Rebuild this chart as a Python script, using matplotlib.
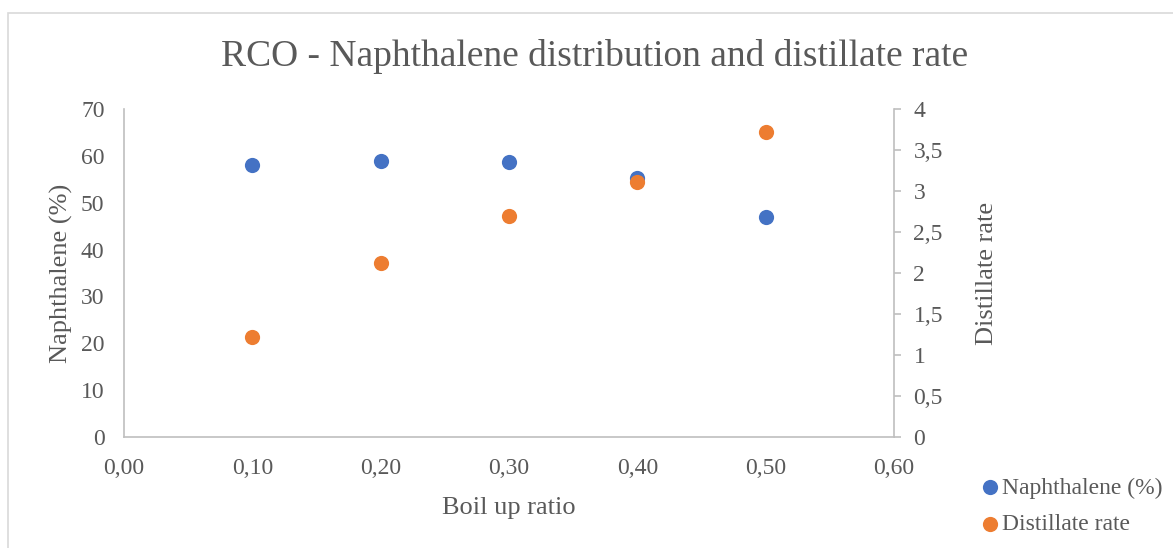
import matplotlib
matplotlib.use("Agg")
import matplotlib.pyplot as plt
from matplotlib.ticker import FuncFormatter, MultipleLocator
from matplotlib.patches import Rectangle

plt.rcParams['font.family'] = ['Liberation Serif', 'DejaVu Serif']

boil_up = [0.10, 0.20, 0.30, 0.40, 0.50]
naphthalene = [58.0, 58.9, 58.6, 55.3, 47.0]
distillate = [1.22, 2.12, 2.69, 3.11, 3.72]

title = "RCO - Naphthalene distribution and distillate rate"
xlabel = "Boil up ratio"
ylabel_left = "Naphthalene (%)"
ylabel_right = "Distillate rate"
series_names = ["Naphthalene (%)", "Distillate rate"]

BLUE = "#4472C4"
ORANGE = "#ED7D31"
TXT = "#595959"
SPINE = "#BFBFBF"

fig = plt.figure(figsize=(11.73, 5.48), dpi=100)
fig.patches.append(Rectangle((8/1173, -0.05), 1.1, 1 - 13/548 + 0.05,
                             transform=fig.transFigure, fill=False,
                             edgecolor="#D9D9D9", linewidth=1.2, zorder=0))

ax = fig.add_axes([124/1173, 1 - 437/548, (894 - 124)/1173, (437 - 109)/548])
ax2 = ax.twinx()

s1 = ax.scatter(boil_up, naphthalene, s=120, color=BLUE, zorder=3, linewidths=0)
s2 = ax2.scatter(boil_up, distillate, s=120, color=ORANGE, zorder=3, linewidths=0)

ax.set_xlim(0, 0.6)
ax.set_ylim(0, 70)
ax2.set_ylim(0, 4)
ax.xaxis.set_major_locator(MultipleLocator(0.1))
ax.yaxis.set_major_locator(MultipleLocator(10))
ax2.yaxis.set_major_locator(MultipleLocator(0.5))

ax.xaxis.set_major_formatter(FuncFormatter(lambda v, p: f"{v:.2f}".replace(".", ",")))
def rfmt(v, p):
    s = f"{v:g}"
    return s.replace(".", ",")
ax2.yaxis.set_major_formatter(FuncFormatter(rfmt))

for a in (ax, ax2):
    for sp in a.spines.values():
        sp.set_visible(False)
ax.spines['left'].set_visible(True)
ax.spines['bottom'].set_visible(True)
ax2.spines['right'].set_visible(True)
for sp in (ax.spines['left'], ax.spines['bottom'], ax2.spines['right']):
    sp.set_color(SPINE)
    sp.set_linewidth(1.2)

ax.tick_params(axis='x', length=0, pad=15, labelsize=17, labelcolor=TXT)
ax.tick_params(axis='y', length=0, pad=14, labelsize=17, labelcolor=TXT)
ax2.tick_params(axis='y', length=5, width=1.2, color=SPINE, pad=9, labelsize=17, labelcolor=TXT)

ax.set_xlabel(xlabel, fontsize=19, color=TXT, labelpad=13)
ax.set_ylabel(ylabel_left, fontsize=19, color=TXT, labelpad=6)
ax2.set_ylabel(ylabel_right, fontsize=19, color=TXT, labelpad=24)

fig.text(0.5 * (222 + 967) / 1173, 1 - 57/548, title, fontsize=27, color=TXT,
         ha='center', va='center')

fig.legend([s1, s2], series_names, loc='center left',
           bbox_to_anchor=(978/1173, 1 - 506/548), frameon=False,
           fontsize=17, labelcolor=TXT, handletextpad=0.0, handlelength=1.0,
           borderpad=0, borderaxespad=0, labelspacing=0.62, markerscale=1.0)

fig.savefig("out.png", dpi=100)
